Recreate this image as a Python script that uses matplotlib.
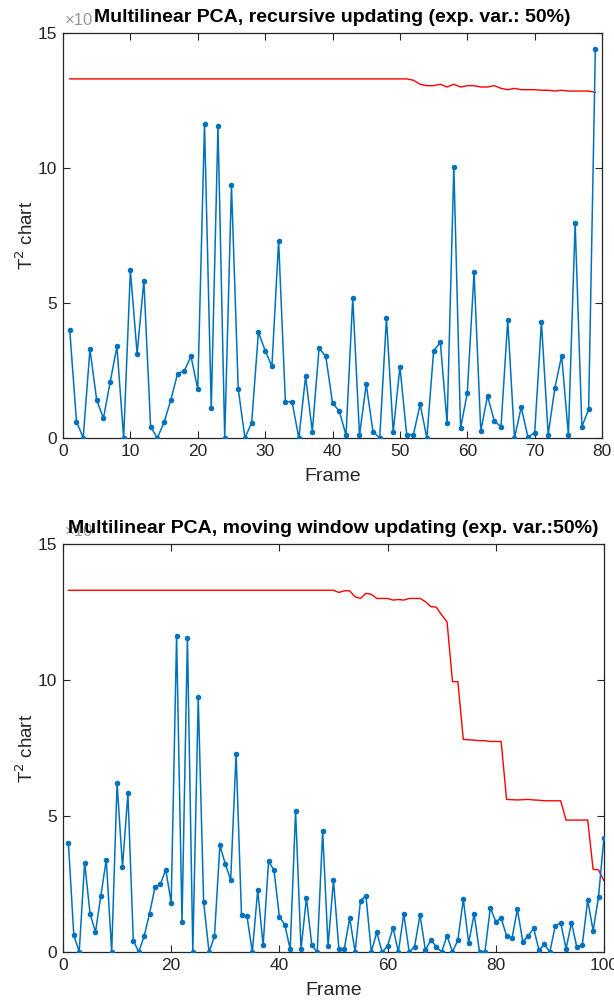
import numpy as np
import matplotlib
matplotlib.use("Agg")
import matplotlib.pyplot as plt

plt.rcParams["font.family"] = ["Liberation Sans", "DejaVu Sans"]

# T^2 values shared by both runs for frames 1..54
t2_common = [
    4.0, 0.61, 0.01, 3.29, 1.41, 0.73, 2.07, 3.39, 0.0, 6.21,
    3.12, 5.83, 0.42, 0.0, 0.58, 1.41, 2.38, 2.49, 3.02, 1.81,
    11.62, 1.10, 11.56, 0.0, 9.36, 1.83, 0.0, 0.57, 3.92, 3.24,
    2.65, 7.29, 1.35, 1.33, 0.0, 2.28, 0.24, 3.33, 3.02, 1.29,
    1.0, 0.1, 5.19, 0.1, 1.99, 0.24, 0.0, 4.44, 0.22, 2.64,
    0.12, 0.12, 1.25, 0.0,
]

# recursive updating, frames 55..79
t2_recursive_tail = [
    3.23, 3.54, 0.54, 10.05, 0.36, 1.68, 6.14, 0.26, 1.56, 0.63,
    0.42, 4.36, 0.0, 1.14, 0.03, 0.2, 4.30, 0.12, 1.87, 3.05,
    0.12, 7.97, 0.42, 1.06, 14.4,
]

# moving window updating, frames 55..100
t2_window_tail = [
    1.89, 2.07, 0.0, 0.72, 0.0, 0.22, 0.89, 0.0, 1.40, 0.0,
    0.2, 1.36, 0.07, 0.44, 0.2, 0.0, 0.6, 0.0, 0.44, 1.94,
    0.32, 1.40, 0.0, 0.0, 1.63, 1.12, 1.24, 0.6, 0.5, 1.57,
    0.38, 0.59, 0.87, 0.07, 0.28, 0.0, 0.96, 1.08, 0.12, 1.08,
    0.17, 0.26, 1.91, 0.78, 2.03, 4.20,
]

# control limits, frames 51..end (frames 1..50 sit at 13.3)
limit_start = 13.3
limit_recursive_tail = [
    13.3, 13.25, 13.1, 13.05, 13.05, 13.1, 13.0, 13.1, 13.0, 13.05,
    13.05, 13.0, 13.0, 13.05, 12.95, 12.9, 12.95, 12.9, 12.9, 12.9,
    12.88, 12.88, 12.85, 12.88, 12.85, 12.85, 12.85, 12.85, 12.8,
]
limit_window_tail = [
    13.22, 13.28, 13.28, 13.06, 13.0, 13.19, 13.15, 13.0, 13.0, 13.0,
    12.94, 12.96, 12.94, 13.0, 13.0, 13.0, 12.88, 12.7, 12.68, 12.39,
    12.14, 9.94, 9.94, 7.82, 7.8, 7.79, 7.77, 7.77, 7.74, 7.74,
    7.74, 5.61, 5.6, 5.59, 5.6, 5.61, 5.59, 5.58, 5.56, 5.56,
    5.56, 5.56, 4.85, 4.85, 4.85, 4.85, 4.85, 3.04, 3.02, 2.62,
]

titles = [
    "Multilinear PCA, recursive updating (exp. var.: 50%)",
    "Multilinear PCA, moving window updating (exp. var.:50%)",
]

BLUE = "#0072BD"
RED = "#FF0000"
AXC = "#262626"


def style_axes(ax, xmax, xticks):
    ax.set_xlim(0, xmax)
    ax.set_ylim(0, 15)
    ax.set_xticks(xticks)
    ax.set_yticks([0, 5, 10, 15])
    ax.tick_params(direction="in", length=5, width=0.8, top=True, right=True,
                   labelsize=12.5, colors=AXC, pad=4)
    for sp in ax.spines.values():
        sp.set_color(AXC)
        sp.set_linewidth(0.9)
    ax.set_xlabel("Frame", fontsize=14, color=AXC, labelpad=7)
    ax.set_ylabel("T$^2$ chart", fontsize=13.5, color=AXC, labelpad=1)
    ax.text(0.003, 1.012, "×10", transform=ax.transAxes, fontsize=12,
            color="#999999", ha="left", va="bottom")


fig = plt.figure(figsize=(6.14, 10.06), dpi=100)
ax1 = fig.add_axes([0.1026, 0.5646, 0.878, 0.4026])
ax2 = fig.add_axes([0.1026, 0.0537, 0.881, 0.4055])

t2_rec = np.array(t2_common + t2_recursive_tail)
t2_win = np.array(t2_common + t2_window_tail)
lim_rec = np.array([limit_start] * 50 + limit_recursive_tail)
lim_win = np.array([limit_start] * 50 + limit_window_tail)

for ax, t2, lim, xmax, xticks, title in [
    (ax1, t2_rec, lim_rec, 80, range(0, 81, 10), titles[0]),
    (ax2, t2_win, lim_win, 100, range(0, 101, 20), titles[1]),
]:
    frames = np.arange(1, len(t2) + 1)
    ax.plot(frames, t2, "-", color=BLUE, lw=1.1, marker="o", ms=4,
            markeredgewidth=0, zorder=3)
    ax.plot(np.arange(1, len(lim) + 1), lim, "-", color=RED, lw=1.0, zorder=2)
    style_axes(ax, xmax, xticks)
    ax.set_title(title, fontsize=14, fontweight="bold", color="black",
                 pad=8, zorder=5)

fig.savefig("out.png", dpi=100)
